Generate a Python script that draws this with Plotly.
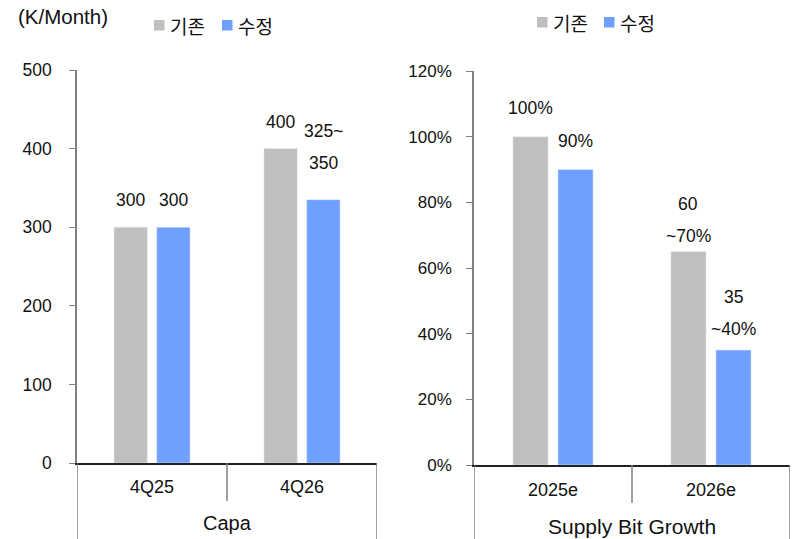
import plotly.graph_objects as go

# ---- data -------------------------------------------------------------
capa_categories = ["4Q25", "4Q26"]
capa_base = [300, 400]
capa_revised = [300, 335]
capa_base_labels = ["300", "400"]
capa_revised_labels = ["300", "325~\n350"]
capa_ticks = [0, 100, 200, 300, 400, 500]

bit_categories = ["2025e", "2026e"]
bit_base = [100, 65]
bit_revised = [90, 35]
bit_base_labels = ["100%", "60\n~70%"]
bit_revised_labels = ["90%", "35\n~40%"]
bit_ticks = [0, 20, 40, 60, 80, 100, 120]

series_names = ["기존", "수정"]
group_titles = ["Capa", "Supply Bit Growth"]
unit_label = "(K/Month)"

# ---- style ------------------------------------------------------------
GRAY = "#BFBFBF"
BLUE = "#6FA0FF"
AXIS = "#808080"
TXT = "#111111"
SANS = "Liberation Sans, Arial, sans-serif"
KR_FONT = "Noto Sans CJK KR, sans-serif"
BARGAP = 0.43
BARGROUPGAP = 0.22
W, H = 795, 539

fig = go.Figure()

fig.add_trace(go.Bar(x=capa_categories, y=capa_base, name=series_names[0],
                     marker_color=GRAY, xaxis="x", yaxis="y"))
fig.add_trace(go.Bar(x=capa_categories, y=capa_revised, name=series_names[1],
                     marker_color=BLUE, xaxis="x", yaxis="y"))
fig.add_trace(go.Bar(x=bit_categories, y=bit_base, name=series_names[0],
                     marker_color=GRAY, xaxis="x2", yaxis="y2"))
fig.add_trace(go.Bar(x=bit_categories, y=bit_revised, name=series_names[1],
                     marker_color=BLUE, xaxis="x2", yaxis="y2"))

# offset of each bar centre from its category centre (axis units)
slot = (1 - BARGAP) / 2
offsets = [-slot / 2, slot / 2]

annotations = []
shapes = []

# value labels above bars (each text line placed separately)
label_lift = {  # px between bar top and centre of the lowest text line
    ("x", 0, 0): 27, ("x", 0, 1): 27, ("x", 1, 0): 27, ("x", 1, 1): 37,
    ("x2", 0, 0): 29, ("x2", 0, 1): 29, ("x2", 1, 0): 16, ("x2", 1, 1): 21,
}
LINE_STEP = 32
panels = [
    ("x", "y", [capa_base, capa_revised], [capa_base_labels, capa_revised_labels],
     dict(family=SANS, size=17.5, color=TXT)),
    ("x2", "y2", [bit_base, bit_revised], [bit_base_labels, bit_revised_labels],
     dict(family=SANS, size=17.5, color=TXT)),
]
for xr, yr, values, labels, font in panels:
    for s, (vals, labs) in enumerate(zip(values, labels)):
        for i, (v, lab) in enumerate(zip(vals, labs)):
            lines = lab.split("\n")
            lift = label_lift[(xr, i, s)]
            for k, line in enumerate(reversed(lines)):
                annotations.append(dict(
                    x=i + offsets[s], y=v, xref=xr, yref=yr, text=line,
                    showarrow=False, yanchor="middle", xanchor="center",
                    yshift=lift + k * LINE_STEP, font=font))

# category and group labels below each panel
below = [
    ("x", capa_categories, 487, dict(family=SANS, size=18, color=TXT),
     group_titles[0], 523, dict(family=SANS, size=20, color=TXT)),
    ("x2", bit_categories, 490, dict(family=SANS, size=18, color=TXT),
     group_titles[1], 526, dict(family=SANS, size=21, color=TXT)),
]
for xr, cats, ycat, cat_font, title, ytitle, title_font in below:
    for i, c in enumerate(cats):
        annotations.append(dict(x=i, y=1 - ycat / H, xref=xr, yref="paper", text=c,
                                showarrow=False, yanchor="middle", font=cat_font))
    annotations.append(dict(x=0.5, y=1 - ytitle / H, xref=xr, yref="paper", text=title,
                            showarrow=False, yanchor="middle", font=title_font))

# category separators extending below the axis
for xr, y0px in [("x", 463), ("x2", 465)]:
    y0 = 1 - y0px / H
    shapes.append(dict(type="line", xref=xr, yref="paper", x0=-0.5, x1=-0.5,
                       y0=0, y1=y0, line=dict(color=AXIS, width=1.5)))
    shapes.append(dict(type="line", xref=xr, yref="paper", x0=0.5, x1=0.5,
                       y0=1 - (y0px + 38) / H, y1=y0, line=dict(color=AXIS, width=1.5)))
    shapes.append(dict(type="line", xref=xr, yref="paper", x0=1.5, x1=1.5,
                       y0=0, y1=y0, line=dict(color=AXIS, width=1.5)))

# unit label
annotations.append(dict(x=16 / W, y=1 - 17 / H, xref="paper", yref="paper", text=unit_label,
                        showarrow=False, xanchor="left", yanchor="middle",
                        font=dict(family=SANS, size=20.5, color=TXT)))

# legends: colour swatch + series name
for sq_x, txt_x, color, name, yc in [
    (154, 168, GRAY, series_names[0], 25), (222, 236, BLUE, series_names[1], 25),
    (537, 551, GRAY, series_names[0], 22), (604, 618, BLUE, series_names[1], 22),
]:
    shapes.append(dict(type="rect", xref="paper", yref="paper",
                       x0=sq_x / W, x1=(sq_x + 10.5) / W,
                       y0=1 - (yc + 5.5) / H, y1=1 - (yc - 5) / H,
                       fillcolor=color, line=dict(width=0)))
    annotations.append(dict(x=txt_x / W, y=1 - yc / H, xref="paper", yref="paper", text=name,
                            showarrow=False, xanchor="left", yanchor="middle",
                            font=dict(family=KR_FONT, size=19, color=TXT)))

xaxis_common = dict(showticklabels=False, ticks="", showline=True, linecolor="#222222",
                    linewidth=1.5, showgrid=False, zeroline=False, fixedrange=True,
                    automargin=False)
yaxis_common = dict(showline=True, linecolor=AXIS, linewidth=1.5, ticks="outside",
                    ticklen=6, tickcolor=AXIS, tickwidth=1.2, showgrid=False, zeroline=False,
                    automargin=False, tickmode="array")

fig.update_layout(
    width=W, height=H, autosize=False,
    margin=dict(l=0, r=0, t=0, b=0, pad=0, autoexpand=False),
    paper_bgcolor="white", plot_bgcolor="white",
    barmode="group", bargap=BARGAP, bargroupgap=BARGROUPGAP,
    showlegend=False,
    xaxis=dict(domain=[77 / W, 377 / W], anchor="y", range=[-0.5, 1.5], **xaxis_common),
    yaxis=dict(domain=[1 - 463 / H, 1 - 70 / H], anchor="x", range=[0, 500],
               tickvals=capa_ticks, ticktext=[str(t) for t in capa_ticks],
               tickfont=dict(family=SANS, size=17.5, color=TXT), ticklabelstandoff=14,
               **yaxis_common),
    xaxis2=dict(domain=[474 / W, 790 / W], anchor="y2", range=[-0.5, 1.5], **xaxis_common),
    yaxis2=dict(domain=[1 - 465 / H, 1 - 71 / H], anchor="x2", range=[0, 120],
                tickvals=bit_ticks, ticktext=[f"{t}%" for t in bit_ticks],
                tickfont=dict(family=SANS, size=17, color=TXT), ticklabelstandoff=11,
                **yaxis_common),
    annotations=annotations,
    shapes=shapes,
)

fig.write_html("out.html", config={"responsive": False})
